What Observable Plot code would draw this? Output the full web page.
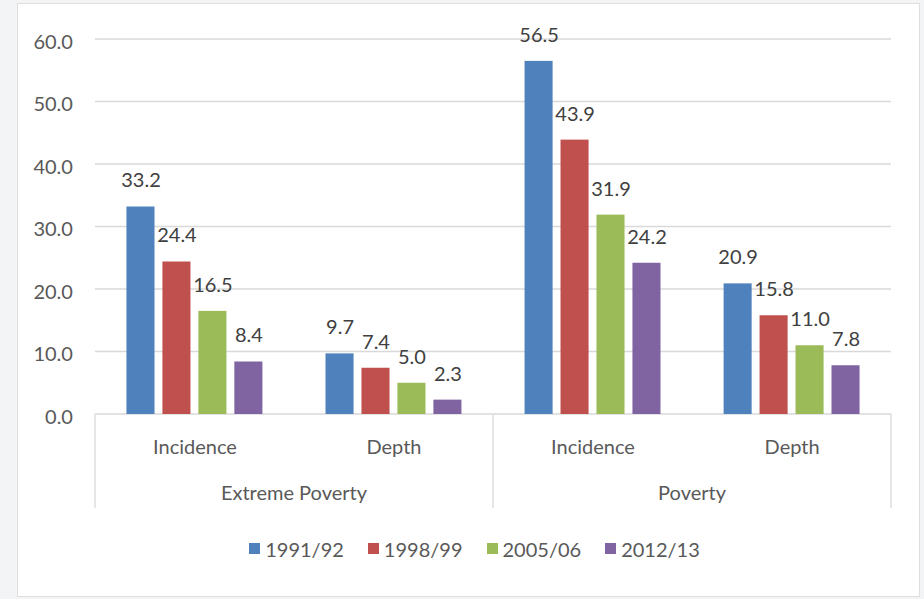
<!DOCTYPE html>
<html>
<head>
<meta charset="utf-8">
<script src="https://cdn.jsdelivr.net/npm/d3@7"></script>
<script src="https://cdn.jsdelivr.net/npm/@observablehq/plot@0.6"></script>
<style>
  html, body { margin: 0; padding: 0; background: #f3f4f6; }
  #card {
    position: absolute; left: 17px; top: 3px;
    width: 901px; height: 592px;
    background: #fff; border: 1px solid #dedede;
  }
  #card svg { display: block; }
  #legend { margin-top: 8px; padding-left: 12px; display: flex; justify-content: center; }
  #legend .leg-swatches-wrap { min-height: 33px; font-family: Lato, sans-serif; font-size: 20px; color: #595959; justify-content: center; }
  #legend .leg-swatch { margin-right: 24px; }
  #legend .leg-swatch:last-child { margin-right: 0; }
  #legend .leg-swatch > svg { margin-right: 5px; }
</style>
</head>
<body>
<div id="card"></div>
<script>
// Poverty headcount (incidence) and poverty gap (depth), by survey round
const groups = ["Extreme Poverty", "Poverty"];
const measures = ["Incidence", "Depth"];
const years = ["1991/92", "1998/99", "2005/06", "2012/13"];
const colors = ["#4f81bd", "#c0504d", "#9bbb59", "#8064a2"];

const extremeIncidence = [33.2, 24.4, 16.5, 8.4];
const extremeDepth = [9.7, 7.4, 5.0, 2.3];
const povertyIncidence = [56.5, 43.9, 31.9, 24.2];
const povertyDepth = [20.9, 15.8, 11.0, 7.8];

const yTicks = [0, 10, 20, 30, 40, 50, 60];

const series = {
  "Extreme Poverty|Incidence": extremeIncidence,
  "Extreme Poverty|Depth": extremeDepth,
  "Poverty|Incidence": povertyIncidence,
  "Poverty|Depth": povertyDepth
};
const keys = groups.flatMap(g => measures.map(m => `${g}|${m}`));
const rows = keys.flatMap(key => years.map((year, i) => ({key, year, value: series[key][i]})));

const font = "Lato, sans-serif";
const fontSize = 20;
const textColor = "#595959";
const lineColor = "#d9d9d9";

const chart = Plot.plot({
  width: 901,
  height: 520,
  marginLeft: 77,
  marginRight: 28,
  marginTop: 35,
  marginBottom: 110,
  style: {fontFamily: font, fontSize: `${fontSize}px`, color: textColor, background: "transparent", overflow: "visible"},
  fx: {
    domain: keys, paddingInner: 0.317, paddingOuter: 0.158, round: false,
    axis: "bottom", label: null, tickSize: 0, tickPadding: 25,
    tickFormat: k => k.split("|")[1]
  },
  x: {domain: years, paddingInner: 0.22, paddingOuter: 0, round: false, axis: null},
  y: {domain: [0, 60], label: null},
  color: {domain: years, range: colors},
  marks: [
    Plot.axisY({ticks: yTicks, tickFormat: d3.format(".1f"), tickSize: 0, tickPadding: 54, dy: 3, label: null, fontSize}),
    Plot.barY(rows, {fx: "key", x: "year", y: "value", fill: "year"}),
    Plot.text(rows, {fx: "key", x: "year", y: "value", text: d => d.value.toFixed(1), dy: -26, fill: "#404040", fontSize})
  ]
});

// Gridlines across the whole frame, group labels and separators, placed with the plot's scales
const fxs = chart.scale("fx");
const band = d3.scaleBand(fxs.domain, fxs.range)
  .paddingInner(fxs.paddingInner).paddingOuter(fxs.paddingOuter).align(fxs.align ?? 0.5);
const ys = chart.scale("y");
const yScale = ys.apply ? (v => ys.apply(v)) : d3.scaleLinear(ys.domain, ys.range);
const y0 = yScale(0);
const sepBottom = y0 + 94;
const [left, right] = fxs.range;

const svg = d3.select(chart.tagName.toLowerCase() === "svg" ? chart : chart.querySelector("svg"));

const grid = svg.insert("g", "g");
grid.selectAll("line").data(yTicks).join("line")
  .attr("x1", left).attr("x2", right)
  .attr("y1", d => yScale(d)).attr("y2", d => yScale(d))
  .attr("stroke", lineColor).attr("stroke-width", 1.3);

const seps = [left];
for (let gi = 1; gi < groups.length; ++gi) {
  const prev = keys[gi * measures.length - 1], next = keys[gi * measures.length];
  seps.push((band(prev) + band.bandwidth() + band(next)) / 2);
}
seps.push(right);
const extra = svg.append("g");
extra.selectAll("line").data(seps).join("line")
  .attr("x1", d => d).attr("x2", d => d)
  .attr("y1", y0).attr("y2", sepBottom)
  .attr("stroke", lineColor).attr("stroke-width", 1.3);
extra.selectAll("text").data(groups).join("text")
  .attr("x", g => {
    const ks = keys.filter(k => k.startsWith(g + "|"));
    return (band(ks[0]) + band(ks[ks.length - 1]) + band.bandwidth()) / 2;
  })
  .attr("y", y0 + 80)
  .attr("dy", "0.32em")
  .attr("text-anchor", "middle")
  .attr("fill", textColor)
  .attr("font-family", font)
  .attr("font-size", fontSize)
  .text(g => g);

const card = document.getElementById("card");
card.append(chart);

const legendBox = document.createElement("div");
legendBox.id = "legend";
legendBox.append(Plot.legend({
  color: {domain: years, range: colors},
  legend: "swatches",
  swatchSize: 11,
  className: "leg"
}));
card.append(legendBox);
</script>
</body>
</html>
